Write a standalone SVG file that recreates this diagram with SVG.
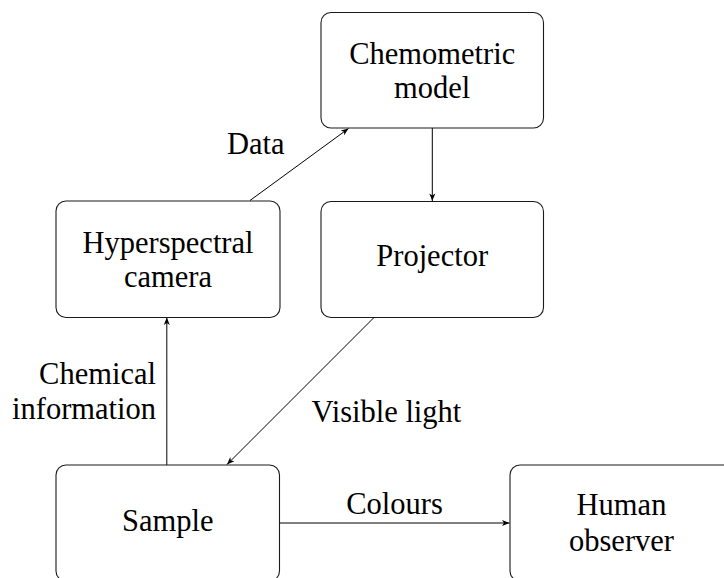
<svg xmlns="http://www.w3.org/2000/svg" width="724" height="578" viewBox="0 0 724 578">
  <style>
    .box { fill: #ffffff; stroke: #1a1a1a; stroke-width: 1.1; }
    .lbl { font-family: "Liberation Serif", "Times New Roman", serif; font-size: 30.5px; fill: #000000; }
    .mid { text-anchor: middle; }
    .end { text-anchor: end; }
    .edge { fill: none; stroke: #000000; stroke-width: 1; marker-end: url(#tip); }
  </style>
  <defs>
    <marker id="tip" viewBox="-8 -4 9 8" refX="0" refY="0" markerWidth="9" markerHeight="8" markerUnits="userSpaceOnUse" orient="auto">
      <path d="M0,0 L-7.5,-3 L-5.5,0 L-7.5,3 Z" fill="#000000"/>
    </marker>
  </defs>

  <rect width="724" height="578" fill="#ffffff"/>

  <!-- connectors -->
  <g id="connectors">
    <line class="edge" x1="250" y1="200.5" x2="348.5" y2="128.5"/>
    <line class="edge" x1="432.3" y1="128" x2="432.3" y2="201"/>
    <line class="edge" x1="374" y1="317.5" x2="227" y2="464.5"/>
    <line class="edge" x1="166.8" y1="465" x2="166.8" y2="317.5"/>
    <line class="edge" x1="279.5" y1="523" x2="509.5" y2="523"/>
    <text class="lbl" x="227" y="153.5">Data</text>
    <text class="lbl end" x="156" y="383.5">Chemical</text>
    <text class="lbl end" x="156" y="418.5">information</text>
    <text class="lbl" x="311.5" y="421.5">Visible light</text>
    <text class="lbl mid" x="394.5" y="513.5">Colours</text>
  </g>

  <!-- nodes -->
  <g id="chemometric-model">
    <rect class="box" x="321" y="12.5" width="222.5" height="115.5" rx="10"/>
    <text class="lbl mid" x="432.2" y="63.5">Chemometric</text>
    <text class="lbl mid" x="432.2" y="97.8">model</text>
  </g>
  <g id="hyperspectral-camera">
    <rect class="box" x="56" y="201" width="224" height="116.5" rx="10"/>
    <text class="lbl mid" x="168" y="252.7">Hyperspectral</text>
    <text class="lbl mid" x="168" y="286.7">camera</text>
  </g>
  <g id="projector">
    <rect class="box" x="321" y="201.5" width="222.5" height="116" rx="10"/>
    <text class="lbl mid" x="432.2" y="266">Projector</text>
  </g>
  <g id="sample">
    <rect class="box" x="56" y="465" width="223.5" height="116" rx="10"/>
    <text class="lbl mid" x="167.7" y="530.7">Sample</text>
  </g>
  <g id="human-observer">
    <rect class="box" x="510" y="465" width="224" height="116" rx="10"/>
    <text class="lbl mid" x="621.5" y="515">Human</text>
    <text class="lbl mid" x="621.5" y="550.7">observer</text>
  </g>
</svg>
